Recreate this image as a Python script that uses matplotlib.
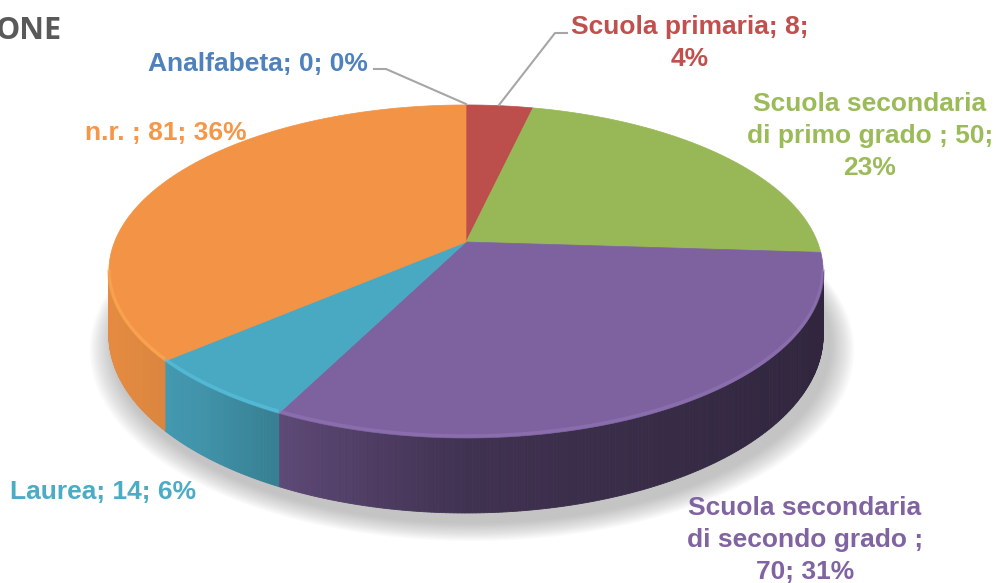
import numpy as np
import matplotlib.pyplot as plt
from matplotlib.patches import Polygon
from matplotlib.colors import to_rgb

# data
categories = ['Analfabeta', 'Scuola primaria', 'Scuola secondaria\ndi primo grado ',
              'Scuola secondaria\ndi secondo grado ', 'Laurea', 'n.r. ']
values = [0, 8, 50, 70, 14, 81]
percents = ['0%', '4%', '23%', '31%', '6%', '36%']
colors = ['#4F81BD', '#C0504D', '#9BBB59', '#8064A2', '#4BACC6', '#F79646']
label_text = [
    'Analfabeta; 0; 0%',
    'Scuola primaria; 8;\n4%',
    'Scuola secondaria\ndi primo grado ; 50;\n23%',
    'Scuola secondaria\ndi secondo grado ;\n70; 31%',
    'Laurea; 14; 6%',
    'n.r. ; 81; 36%',
]

# geometry of the projected disc (pixels)
cx, cy = 466, 242
A, B, k = 351.5, 161.3, 0.177
T = 75 * (1 - k)


def proj(th, drop=0.0):
    t = np.radians(th)
    den = 1 + k * np.cos(t)
    x = cx + A * np.sin(t) / den
    y = cy - B * np.cos(t) / den + drop * T / den
    return x, y


def shade(c, f):
    r, g, b = to_rgb(c)
    return (r * f, g * f, b * f)


fig = plt.figure(figsize=(9.96, 5.83), dpi=100)
ax = fig.add_axes([0, 0, 1, 1])
ax.set_xlim(0, 996)
ax.set_ylim(583, 0)
ax.axis('off')

# soft shadow
th_all = np.linspace(0, 360, 361)
for i in range(14):
    sx, sy = proj(th_all, 1.0)
    grow = 1 + 0.005 * (14 - i)
    px = cx + (sx - cx) * grow + 6
    py = cy + (sy - cy) * grow + 9
    ax.add_patch(Polygon(np.column_stack([px, py]), closed=True,
                         fc='#808080', ec='none', alpha=0.04, zorder=1))

total = sum(values)
bounds = np.concatenate([[0], np.cumsum(values)]) / total * 360
vis_lo = np.degrees(np.arccos(-k))
vis_hi = 360 - vis_lo
x_left, x_right = 107, 822

# sides
for i, v in enumerate(values):
    if v == 0:
        continue
    a0, a1 = max(bounds[i], vis_lo), min(bounds[i + 1], vis_hi)
    if a1 <= a0:
        continue
    ths = np.linspace(a0, a1, int((a1 - a0) * 2) + 2)
    for j in range(len(ths) - 1):
        seg = np.array([ths[j], ths[j + 1]])
        tx, ty = proj(seg)
        bx, by = proj(seg[::-1], 1.0)
        tpos = (tx.mean() - x_left) / (x_right - x_left)
        f = np.interp(tpos, [0, 0.13, 0.27, 0.5, 1.0], [0.93, 0.86, 0.70, 0.50, 0.38])
        c = shade(colors[i], f)
        ax.add_patch(Polygon(np.column_stack([np.r_[tx, bx], np.r_[ty, by]]),
                             closed=True, fc=c, ec=c, lw=0.6, zorder=2))

# top faces
for i, v in enumerate(values):
    if v == 0:
        continue
    ths = np.linspace(bounds[i], bounds[i + 1], int(bounds[i + 1] - bounds[i]) * 2 + 2)
    tx, ty = proj(ths)
    c = shade(colors[i], 0.98)
    ax.add_patch(Polygon(np.column_stack([np.r_[cx, tx], np.r_[cy, ty]]),
                         closed=True, fc=c, ec=c, lw=0.5, zorder=3))
    # bevel highlight on the front rim
    a0, a1 = max(bounds[i], vis_lo), min(bounds[i + 1], vis_hi)
    if a1 > a0:
        hs = np.linspace(a0, a1, 100)
        hx, hy = proj(hs)
        hl = tuple(min(1, ch * 1.1 + 0.04) for ch in to_rgb(colors[i]))
        ax.plot(hx, hy - 2, color=hl, lw=2.5, alpha=0.5, zorder=4,
                solid_capstyle='butt')

# leader lines
lc = '#A6A6A6'
ax.plot([374, 386, 466], [69, 69, 104], color=lc, lw=1.5, zorder=5)
ax.plot([567, 555, 499], [33, 33, 105], color=lc, lw=1.5, zorder=5)

# labels
fam = ['Liberation Sans', 'DejaVu Sans']
pos = [(258, 64), (690, 43), (870, 136), (805, 540), (103, 492), (166, 133)]
for i, txt in enumerate(label_text):
    ax.text(pos[i][0], pos[i][1], txt, color=colors[i], fontsize=19,
            fontweight='bold', family=fam, ha='center', va='center',
            linespacing=1.42, zorder=6)

# clipped chart title
ax.text(-5, 31, 'ONE', color='#595959', fontsize=22, fontweight='bold',
        family=['Open Sans', 'DejaVu Sans'], ha='left', va='center')

plt.savefig('out.png', dpi=100)
